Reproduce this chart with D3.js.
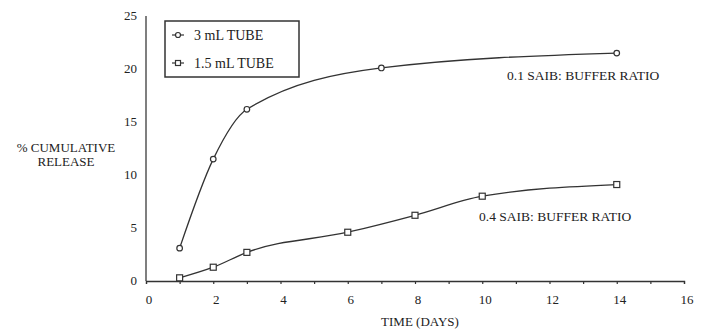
<!DOCTYPE html>
<html>
<head>
<meta charset="utf-8">
<script src="https://cdn.jsdelivr.net/npm/d3@7"></script>
<style>
  html, body { margin: 0; padding: 0; background: #fff; }
  svg { display: block; }
  text { font-family: "Liberation Serif", "DejaVu Serif", "Times New Roman", serif; fill: #222; }
</style>
</head>
<body>
<svg id="chart" width="711" height="330"></svg>
<script>
// ---- data ----
const days3 = [1, 2, 3, 7, 14];
const release3 = [3.1, 11.5, 16.2, 20.1, 21.5];
const days15 = [1, 2, 3, 6, 8, 10, 14];
const release15 = [0.3, 1.3, 2.7, 4.6, 6.2, 8.0, 9.1];
const seriesNames = ["3 mL TUBE", "1.5 mL TUBE"];
const xTicks = [0, 2, 4, 6, 8, 10, 12, 14, 16];
const yTicks = [0, 5, 10, 15, 20, 25];
const annotations = ["0.1 SAIB: BUFFER RATIO", "0.4 SAIB: BUFFER RATIO"];

const FONT = "'Liberation Serif', 'DejaVu Serif', 'Times New Roman', serif";
const svg = d3.select("#chart");
const x = d3.scaleLinear().domain([0, 16]).range([146, 684]);
const y = d3.scaleLinear().domain([0, 25]).range([281, 16]);
const ink = "#333";

// y axis line (no ticks)
svg.append("line").attr("x1", x(0)).attr("x2", x(0))
  .attr("y1", y(25)).attr("y2", y(0))
  .attr("stroke", "#555").attr("stroke-width", 1.5);

// x axis with minor ticks every day
const xAxis = d3.axisBottom(x).tickValues(d3.range(0, 17)).tickSize(3).tickFormat("");
const gx = svg.append("g").attr("transform", `translate(0,${y(0)})`).call(xAxis);
gx.select(".domain").attr("stroke", ink).attr("stroke-width", 1.3);
gx.selectAll(".tick line").attr("stroke", ink).attr("stroke-width", 1.2);

// x tick labels
svg.append("g").selectAll("text").data(xTicks).join("text")
  .attr("x", d => x(d) + 3).attr("y", 304)
  .attr("text-anchor", "middle").attr("font-size", 13)
  .text(d => d);

// y tick labels
svg.append("g").selectAll("text").data(yTicks).join("text")
  .attr("x", 137).attr("y", d => y(d) + 4)
  .attr("text-anchor", "end").attr("font-size", 13)
  .text(d => d);

// axis titles
svg.append("text").attr("x", 420).attr("y", 326).attr("text-anchor", "middle")
  .attr("font-size", 13).text("TIME (DAYS)");
const yt = svg.append("text").attr("text-anchor", "middle").attr("font-size", 13);
yt.append("tspan").attr("x", 66).attr("y", 152).text("% CUMULATIVE");
yt.append("tspan").attr("x", 66).attr("y", 166).text("RELEASE");

// lines
const line = d3.line().x(d => x(d[0])).y(d => y(d[1])).curve(d3.curveMonotoneX);
const pts3 = days3.map((d, i) => [d, release3[i]]);
const pts15 = days15.map((d, i) => [d, release15[i]]);

svg.append("path").attr("d", line(pts3)).attr("fill", "none")
  .attr("stroke", ink).attr("stroke-width", 1.3);
svg.append("path").attr("d", line(pts15)).attr("fill", "none")
  .attr("stroke", ink).attr("stroke-width", 1.3);

// markers
svg.append("g").selectAll("circle").data(pts3).join("circle")
  .attr("cx", d => x(d[0])).attr("cy", d => y(d[1])).attr("r", 2.8)
  .attr("fill", "#fff").attr("stroke", ink).attr("stroke-width", 1.2);
svg.append("g").selectAll("rect").data(pts15).join("rect")
  .attr("x", d => x(d[0]) - 3).attr("y", d => y(d[1]) - 3)
  .attr("width", 6).attr("height", 6)
  .attr("fill", "#fff").attr("stroke", ink).attr("stroke-width", 1.2);

// annotations
svg.append("text").attr("x", 507).attr("y", 80).attr("font-size", 13.5).text(annotations[0]);
svg.append("text").attr("x", 479).attr("y", 221).attr("font-size", 13.5).text(annotations[1]);

// legend
const lg = svg.append("g");
lg.append("rect").attr("x", 165).attr("y", 21).attr("width", 134).attr("height", 56)
  .attr("fill", "#fff").attr("stroke", ink).attr("stroke-width", 1.5);
const rowY = [35, 63];
rowY.forEach((ry, i) => {
  lg.append("line").attr("x1", 172).attr("x2", 184).attr("y1", ry).attr("y2", ry)
    .attr("stroke", ink).attr("stroke-width", 1.2);
  if (i === 0) {
    lg.append("circle").attr("cx", 178).attr("cy", ry).attr("r", 2.5)
      .attr("fill", "#fff").attr("stroke", ink).attr("stroke-width", 1.2);
  } else {
    lg.append("rect").attr("x", 175.5).attr("y", ry - 2.5).attr("width", 5).attr("height", 5)
      .attr("fill", "#fff").attr("stroke", ink).attr("stroke-width", 1.2);
  }
  lg.append("text").attr("x", 194).attr("y", ry + 4.5).attr("font-size", 14).text(seriesNames[i]);
});

svg.selectAll("text").attr("font-family", FONT);
</script>
</body>
</html>
